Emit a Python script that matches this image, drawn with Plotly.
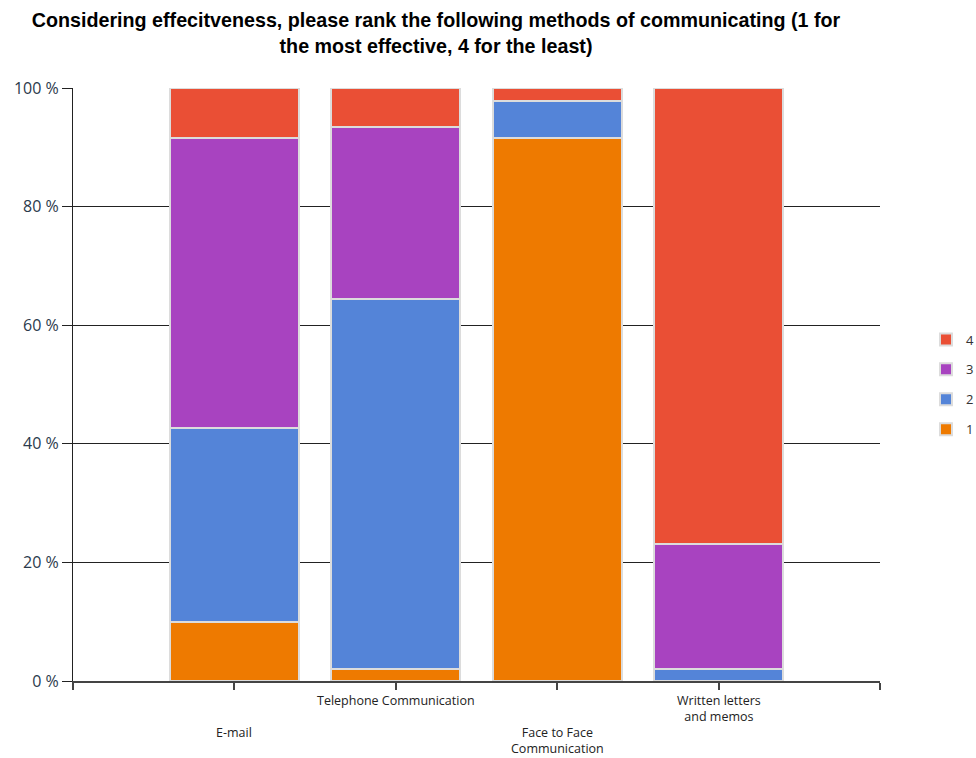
import plotly.graph_objects as go

# Survey: share of respondents giving each rank to each communication method
methods = ["E-mail", "Telephone Communication", "Face to Face Communication", "Written letters and memos"]
method_labels = ["E-mail", "Telephone Communication",
                 "Face to Face<br>Communication", "Written letters<br>and memos"]
label_rows = [1, 0, 1, 0]  # staggered rows under the axis
positions = [1, 2, 3, 4]

rank_1 = [10.0, 2.0, 91.6, 0.0]
rank_2 = [32.7, 62.4, 6.2, 2.0]
rank_3 = [48.8, 29.0, 0.0, 21.1]
rank_4 = [8.5, 6.6, 2.2, 76.9]

series = [
    ("1", rank_1, "#EE7A00"),
    ("2", rank_2, "#5484D8"),
    ("3", rank_3, "#A843C0"),
    ("4", rank_4, "#EA4F35"),
]

y_ticks = [0, 20, 40, 60, 80, 100]
y_tick_text = [f"{v} %" for v in y_ticks]

fig = go.Figure()
for i, (name, vals, color) in enumerate(series):
    fig.add_trace(go.Bar(
        x=positions, y=vals, name=name,
        width=0.8,
        marker=dict(color=color, line=dict(color="#DCDCDC", width=2)),
        legendgroup=name,
        legendrank=len(series) - i,
        hovertext=methods,
    ))

# Category labels under the axis, alternating between two rows
for pos, label, row in zip(positions, method_labels, label_rows):
    n_lines = label.count("<br>") + 1
    fig.add_annotation(
        x=pos, xref="x", y=0, yref="paper",
        text=label, showarrow=False,
        xanchor="center", yanchor="middle", borderpad=0,
        yshift=-(19 + row * 32 + (n_lines - 1) * 8),
        font=dict(family="Open Sans", size=12.5, color="#222222"),
    )

fig.update_layout(
    barmode="stack",
    width=976, height=758,
    margin=dict(l=73, r=96, t=88, b=77, autoexpand=False),
    paper_bgcolor="white", plot_bgcolor="white",
    font=dict(family="Open Sans", color="#333333"),
    title=dict(
        text="Considering effecitveness, please rank the following methods of communicating (1 for<br>the most effective, 4 for the least)",
        font=dict(family="Liberation Sans", size=19.7, color="black", weight="bold"),
        x=436 / 976, xanchor="center", xref="container",
        y=1 - 27 / 758, yanchor="top", yref="container",
    ),
    legend=dict(
        x=1.057, xanchor="left", y=0.5, yanchor="middle",
        traceorder="grouped", tracegroupgap=10,
        font=dict(size=13, color="#333333"),
    ),
)

fig.update_xaxes(
    range=[0, 5],
    tickvals=[0] + positions + [5],
    showticklabels=False,
    ticks="outside", ticklen=7, tickcolor="#444444", tickwidth=1.5,
    showline=True, linecolor="#444444", linewidth=1.5,
    showgrid=False, zeroline=False, automargin=False,
)

fig.update_yaxes(
    range=[0, 100],
    tickvals=y_ticks, ticktext=y_tick_text,
    ticks="outside", ticklen=10, tickcolor="#222222",
    showline=True, linecolor="#222222", linewidth=1,
    showgrid=True, gridcolor="#222222", gridwidth=1,
    zeroline=False, automargin=False,
    tickfont=dict(family="Open Sans", size=16, color="#2b3a4c"),
)

fig.write_html("out.html")
